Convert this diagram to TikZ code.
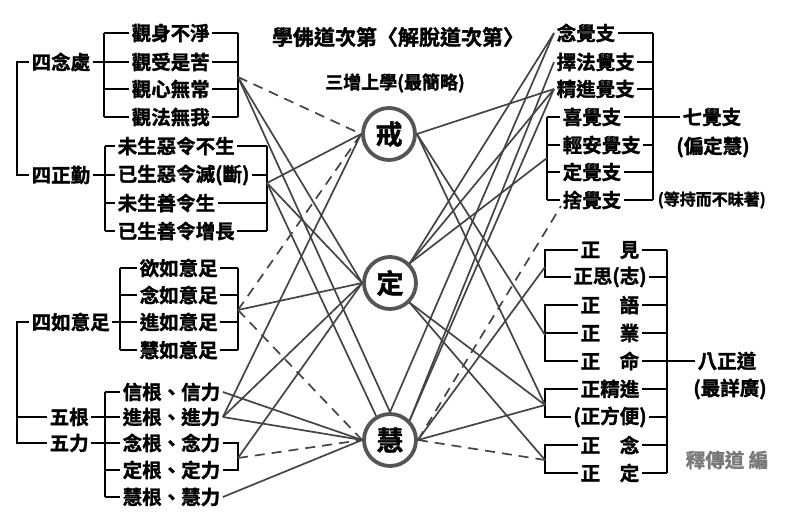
\documentclass[tikz,border=0pt]{standalone}
\usepackage{fontspec}
\setmainfont{Noto Sans CJK TC}[BoldFont={Noto Sans CJK TC Bold},BoldFeatures={FakeBold=1.5}]
\definecolor{conc}{RGB}{68,68,68}
\definecolor{circc}{RGB}{85,85,85}
\definecolor{signc}{RGB}{120,120,120}
\begin{document}
\begin{tikzpicture}[x=1pt,y=-1pt,
  br/.style={line width=2.6pt,black},
  txt/.style={font=\fontsize{19.5}{20}\selectfont\bfseries,inner xsep=2.5pt,inner ysep=0pt},
  itm/.style={txt,anchor=west},
  con/.style={line width=1.7pt,conc},
  dcon/.style={con,dash pattern=on 10pt off 7pt},
  circ/.style={circle,draw=circc,line width=3.8pt,minimum size=52pt,inner sep=0pt,fill=white,font=\fontsize{27}{27}\selectfont\bfseries}
]
\useasboundingbox (0,0) rectangle (800,525);

% titles
\node[txt,font=\fontsize{21}{21}\selectfont\bfseries] (title) at (398,37) {學佛道次第〈解脫道次第〉};
\node[txt,font=\fontsize{18}{18}\selectfont\bfseries] (sub) at (395,83) {三增上學(最簡略)};

% circles
\node[circ] (jie) at (389,134) {戒};
\node[circ] (ding) at (390,283) {定};
\node[circ] (hui) at (390,440) {慧};

% ---------- left: 四念處 ----------
\node[itm] (a0) at (29,62) {四念處};
\node[itm] (a1) at (129,33) {觀身不淨};
\node[itm] (a2) at (129,62) {觀受是苦};
\node[itm] (a3) at (129,89) {觀心無常};
\node[itm] (a4) at (129,117) {觀法無我};
\draw[br] (104,33) -- (104,117);
\foreach \i/\y in {1/33,3/89,4/117} \draw[br] (104,\y) -- (a\i.west);
\draw[br] (a0.east) -- (a2.west);
\draw[br] (238,33) -- (238,117);
\foreach \i/\y in {1/33,2/62,3/89,4/117} \draw[br] (a\i.east) -- (238,\y);

% ---------- left: 四正勤 ----------
\node[itm] (b0) at (29,175) {四正勤};
\node[itm] (b1) at (115,146) {未生惡令不生};
\node[itm] (b2) at (115,175) {已生惡令滅(斷)};
\node[itm] (b3) at (115,203) {未生善令生};
\node[itm] (b4) at (115,231) {已生善令增長};
\draw[br] (105,146) -- (105,231);
\foreach \i/\y in {1/146,3/203,4/231} \draw[br] (105,\y) -- (b\i.west);
\draw[br] (b0.east) -- (b2.west);
\draw[br] (267,146) -- (267,231);
\foreach \i/\y in {1/146,2/175,3/203,4/231} \draw[br] (b\i.east) -- (267,\y);
\draw[br] (a0.west) -- (17,62) -- (17,175) -- (b0.west);

% ---------- left: 四如意足 ----------
\node[itm] (c0) at (29,322) {四如意足};
\node[itm] (c1) at (137,268) {欲如意足};
\node[itm] (c2) at (137,295) {念如意足};
\node[itm] (c3) at (137,322) {進如意足};
\node[itm] (c4) at (137,350) {慧如意足};
\draw[br] (120,268) -- (120,350);
\foreach \i/\y in {1/268,2/295,4/350} \draw[br] (120,\y) -- (c\i.west);
\draw[br] (c0.east) -- (c3.west);
\draw[br] (238,268) -- (238,350);
\foreach \i/\y in {1/268,2/295,3/322,4/350} \draw[br] (c\i.east) -- (238,\y);

% ---------- left: 五根 五力 ----------
\node[itm] (d0) at (47,417) {五根};
\node[itm] (dd) at (47,443) {五力};
\node[itm] (d1) at (120,392) {信根、信力};
\node[itm] (d2) at (120,417) {進根、進力};
\node[itm] (d3) at (120,443) {念根、念力};
\node[itm] (d4) at (120,470) {定根、定力};
\node[itm] (d5) at (120,497) {慧根、慧力};
\draw[br] (105,392) -- (105,497);
\foreach \i/\y in {1/392,4/470,5/497} \draw[br] (105,\y) -- (d\i.west);
\draw[br] (d0.east) -- (d2.west);
\draw[br] (dd.east) -- (d3.west);
\draw[br] (c0.west) -- (17,322) -- (17,443) -- (dd.west);
\draw[br] (17,417) -- (d0.west);
\draw[br] (d3.east) -- (238,443) -- (238,470) -- (d4.east);

% ---------- right: 七覺支 ----------
\node[itm] (e1) at (554,33) {念覺支};
\node[itm] (e2) at (554,62) {擇法覺支};
\node[itm] (e3) at (554,89) {精進覺支};
\node[itm] (e4) at (560,117) {喜覺支};
\node[itm] (e5) at (560,145) {輕安覺支};
\node[itm] (e6) at (560,172) {定覺支};
\node[itm] (e7) at (560,200) {捨覺支};
\node[itm] (e0) at (680,117) {七覺支};
\node[txt] (e8) at (713,147) {(偏定慧)};
\node[itm,font=\fontsize{16}{16}\selectfont\bfseries] (e9) at (655,200) {(等持而不昧著)};
\draw[br] (653,33) -- (653,200);
\foreach \i/\y in {1/33,2/62,3/89,5/145,6/172,7/200} \draw[br] (e\i.east) -- (653,\y);
\draw[br] (e4.east) -- (e0.west);
\draw[br] (547,117) -- (547,200);
\foreach \i/\y in {4/117,5/145,6/172,7/200} \draw[br] (547,\y) -- (e\i.west);

% ---------- right: 八正道 ----------
\node[txt] (f1) at (610,250) {正　見};
\node[txt] (f2) at (610,277) {正思(志)};
\node[txt] (f3) at (610,305) {正　語};
\node[txt] (f4) at (610,333) {正　業};
\node[txt] (f5) at (610,361) {正　命};
\node[txt] (f6) at (610,389) {正精進};
\node[txt] (f7) at (610,417) {(正方便)};
\node[txt] (f8) at (610,445) {正　念};
\node[txt] (f9) at (610,473) {正　定};
\node[itm] (f0) at (695,361) {八正道};
\node[txt] (fa) at (730,389) {(最詳廣)};
\node[txt,text=signc] (sign) at (727,460) {釋傳道 編};
\draw[br] (667,250) -- (667,473);
\foreach \i/\y in {1/250,2/277,3/305,4/333,6/389,7/417,8/445,9/473} \draw[br] (f\i.east) -- (667,\y);
\draw[br] (f5.east) -- (f0.west);
\draw[br] (f1.west) -- (545,250) -- (545,277) -- (f2.west);
\draw[br] (f3.west) -- (545,305) -- (545,361) -- (f5.west);
\draw[br] (545,333) -- (f4.west);
\draw[br] (f6.west) -- (545,389) -- (545,417) -- (f7.west);
\draw[br] (f8.west) -- (545,445) -- (545,473) -- (f9.west);

% ---------- ports ----------
\coordinate (L1) at (238,77);
\coordinate (L2) at (267,183);
\coordinate (L3) at (238,310);
\coordinate (L6) at (238,458);
\coordinate (R4) at (547,158);
\coordinate (R4s) at (561,206);
\coordinate (R5) at (545,267);
\coordinate (R6) at (545,335);
\coordinate (R7) at (545,405);
\coordinate (R8) at (545,460);

% ---------- connectors left ----------
\draw[dcon] (L1) -- (jie.west);
\draw[con] (L1) -- (ding.west);
\draw[con] (L1) -- (hui.north);
\draw[con] (L2) -- (jie.west);
\draw[con] (L2) -- (ding.west);
\draw[con] (L2) -- (hui.120);
\draw[dcon] (L3) -- (jie.west);
\draw[con] (ding.west) -- (L3);
\draw[dcon] (L3) -- (hui.west);
\draw[con] (d1.east) -- (hui.west);
\draw[con] (d2.east) -- (jie.west);
\draw[con] (d2.east) -- (ding.west);
\draw[con] (d2.east) -- (hui.west);
\draw[con] (L6) -- (ding.west);
\draw[dcon] (L6) -- (hui.west);
\draw[con] (d5.east) -- (hui.west);

% ---------- connectors right ----------
\draw[con] (jie.east) -- (e3.west);
\draw[con] (jie.east) -- (R6);
\draw[con] (jie.east) -- (R7);
\draw[con] (ding.45) -- (e1.west);
\draw[con] (ding.45) -- (e3.west);
\draw[con] (ding.45) -- (R4);
\draw[con] (ding.-45) -- (R7);
\draw[con] (ding.-45) -- (R8);
\draw[con] (hui.north) -- (e1.west);
\draw[con] (hui.45) -- (e2.west);
\draw[con] (hui.45) -- (e3.west);
\draw[con] (hui.east) -- (R5);
\draw[con] (hui.east) -- (R7);
\draw[dcon] (hui.east) -- (R8);
\draw[dcon] (hui.east) -- (R4s);
\end{tikzpicture}
\end{document}
